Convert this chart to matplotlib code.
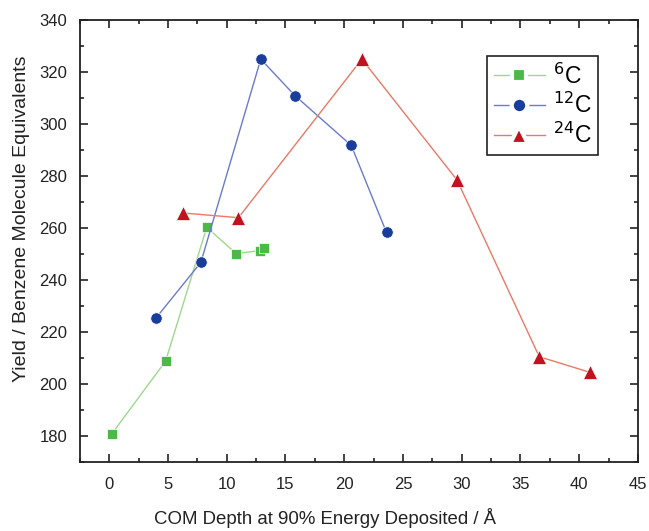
import numpy as np
import matplotlib
matplotlib.use('Agg')
import matplotlib.pyplot as plt
from matplotlib.ticker import MultipleLocator

plt.rcParams['font.family'] = ['Liberation Sans', 'DejaVu Sans']

# data
x6 = [0.2, 4.8, 8.3, 10.8, 12.8, 13.2]
y6 = [180.7, 208.8, 260.3, 250.2, 251.3, 252.5]

x12 = [4.0, 7.8, 12.9, 15.8, 20.6, 23.6]
y12 = [225.5, 246.8, 325.0, 311.0, 291.8, 258.3]

x24 = [6.3, 11.0, 21.5, 29.6, 36.6, 40.9]
y24 = [265.8, 264.0, 325.0, 278.5, 210.5, 204.5]

labels = [r'$^{6}$C', r'$^{12}$C', r'$^{24}$C']

fig = plt.figure(figsize=(6.49, 5.31), dpi=100)
ax = fig.add_axes([0.123, 0.130, 0.860, 0.832])

ax.plot(x6, y6, '-', color='#9ed88e', lw=1.0, marker='s', ms=7,
        mfc='#4cb847', mec='white', mew=0.5, label=labels[0])
ax.plot(x12, y12, '-', color='#6b7bcc', lw=1.0, marker='o', ms=8.2,
        mfc='#1a3d9c', mec='white', mew=0.5, label=labels[1])
ax.plot(x24, y24, '-', color='#e87a66', lw=1.0, marker='^', ms=9.5,
        mfc='#c2121f', mec='white', mew=0.5, label=labels[2])

ax.set_xlim(-2.5, 45)
ax.set_ylim(170, 340)
ax.xaxis.set_major_locator(MultipleLocator(5))
ax.xaxis.set_minor_locator(MultipleLocator(2.5))
ax.yaxis.set_major_locator(MultipleLocator(20))
ax.yaxis.set_minor_locator(MultipleLocator(10))

ax.tick_params(axis='both', which='both', direction='in', top=True, right=True,
               width=1.2, labelsize=12, colors='#222222')
ax.tick_params(axis='x', which='major', length=6, pad=11)
ax.tick_params(axis='y', which='major', length=6, pad=9)
ax.tick_params(axis='both', which='minor', length=3)
for s in ax.spines.values():
    s.set_linewidth(1.3)
    s.set_color('#222222')

ax.set_xlabel('COM Depth at 90% Energy Deposited / Å', fontsize=13.4,
              color='#222222')
ax.set_ylabel('Yield / Benzene Molecule Equivalents', fontsize=14,
              color='#222222')
ax.xaxis.set_label_coords(0.44, -0.104)
ax.yaxis.set_label_coords(-0.09, 0.55)

leg = ax.legend(loc='upper right', bbox_to_anchor=(0.929, 0.918), fontsize=16.5,
                fancybox=False, edgecolor='#222222', framealpha=1,
                handlelength=2.2, handletextpad=0.35, borderpad=0.3,
                labelspacing=0.2, borderaxespad=0)
leg.get_frame().set_linewidth(1.2)
# white halo around the legend markers leaves a gap in the handle line
for h in leg.legend_handles:
    h.set_markersize(h.get_markersize() + 3)
    h.set_markeredgewidth(3)

fig.savefig('out.png', dpi=100)
